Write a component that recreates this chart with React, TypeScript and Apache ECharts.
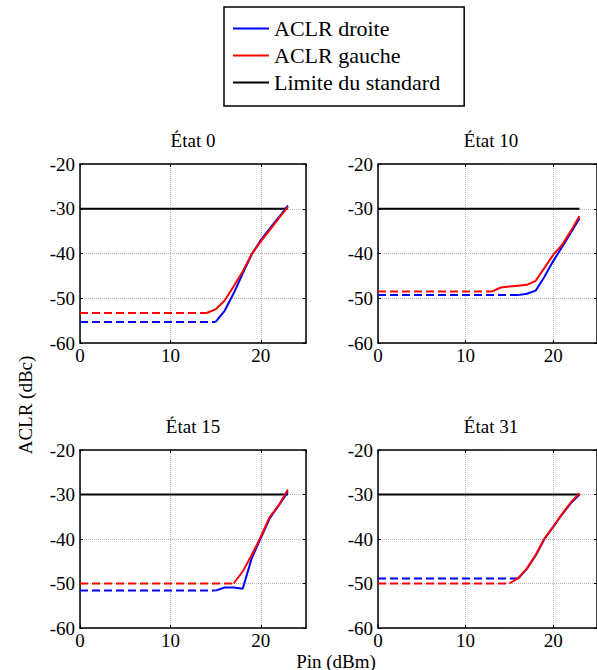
import React, { useEffect, useRef } from "react";
import * as echarts from "echarts";

// ---- data ----
const STATES = ["État 0", "État 10", "État 15", "État 31"];
const SERIES_NAMES = ["ACLR droite", "ACLR gauche", "Limite du standard"];
const X_LABELS = [0, 10, 20];
const Y_LABELS = [-60, -50, -40, -30, -20];

// flat (dashed) levels and where measured (solid) part starts, per state
const blueFlat = [-55.3, -49.3, -51.6, -48.9];
const redFlat = [-53.3, -48.5, -50.0, -50.0];
const blueStart = [15, 16, 15, 16];
const redStart = [14, 13, 17, 15];

// solid parts (Pin = start, start+1, ...)
const blueEtat0 = [-55.3, -52.8, -48.9, -44.5, -40.2, -37.0, -34.4, -31.9, -29.3];
const redEtat0 = [-53.3, -52.5, -50.5, -47.3, -44.0, -40.1, -37.3, -34.7, -32.1, -29.6];
const blueEtat10 = [-49.3, -49.0, -48.3, -45.2, -41.7, -38.6, -35.4, -32.1];
const redEtat10 = [-48.5, -47.6, -47.4, -47.2, -47.0, -46.1, -43.2, -40.3, -38.1, -35.0, -31.6];
const blueEtat15 = [-51.6, -50.9, -50.9, -51.2, -44.3, -39.8, -35.3, -32.4, -29.4];
const redEtat15 = [-50.0, -47.3, -43.6, -39.5, -35.0, -32.4, -28.9];
const blueEtat31 = [-48.9, -46.7, -43.7, -40.0, -37.3, -34.5, -32.0, -30.0];
const redEtat31 = [-50.0, -48.8, -46.6, -43.6, -39.9, -37.2, -34.4, -31.8, -29.7];

const blueSolid = [blueEtat0, blueEtat10, blueEtat15, blueEtat31];
const redSolid = [redEtat0, redEtat10, redEtat15, redEtat31];

const limitValue = -30;
const limitStart = 0;
const limitEnd = 23;

// ---- layout / style ----
const FONT = "Liberation Serif";
const GRIDS = [
  { left: 80, top: 164, width: 226, height: 179 },
  { left: 378, top: 164, width: 226, height: 179 },
  { left: 80, top: 450, width: 226, height: 178 },
  { left: 378, top: 450, width: 226, height: 178 },
];
const TITLE_POS = [
  [193, 140],
  [491, 140],
  [193, 426],
  [491, 426],
];
const BLUE = "#0000ff";
const RED = "#ff0000";
const BLACK = "#000000";

function toPoints(start: number, vals: number[]) {
  return vals.map((v, i) => [start + i, v]);
}

export default function App() {
  const ref = useRef<HTMLDivElement>(null);

  useEffect(() => {
    if (!ref.current) return;
    const chart = echarts.init(ref.current, undefined, { renderer: "svg" });

    const xAxes: any[] = [];
    const yAxes: any[] = [];
    const series: any[] = [];

    GRIDS.forEach((_, i) => {
      const axisLine = { show: true, onZero: false, lineStyle: { color: BLACK, width: 1.5 } };
      const axisTick = { show: true, inside: true, length: 3, lineStyle: { color: BLACK, width: 1 } };
      const split = { show: true, lineStyle: { color: "#b0b0b0", width: 1, type: [1, 1] } };
      xAxes.push({
        gridIndex: i,
        type: "value",
        position: "bottom",
        min: 0,
        max: 25,
        interval: 10,
        axisLine,
        axisTick,
        axisLabel: {
          color: BLACK,
          fontFamily: FONT,
          fontSize: 19,
          margin: 3,
          showMaxLabel: false,
          formatter: (v: number) => (X_LABELS.includes(v) ? String(v) : ""),
        },
        splitLine: split,
      });
      xAxes.push({
        gridIndex: i,
        type: "value",
        position: "top",
        min: 0,
        max: 25,
        interval: 10,
        axisLine,
        axisTick,
        axisLabel: { show: false },
        splitLine: { show: false },
      });
      yAxes.push({
        gridIndex: i,
        type: "value",
        position: "left",
        min: -60,
        max: -20,
        interval: 10,
        axisLine,
        axisTick,
        axisLabel: {
          color: BLACK,
          fontFamily: FONT,
          fontSize: 19,
          margin: 5,
          formatter: (v: number) => (Y_LABELS.includes(v) ? String(v) : ""),
        },
        splitLine: split,
      });
      yAxes.push({
        gridIndex: i,
        type: "value",
        position: "right",
        min: -60,
        max: -20,
        interval: 10,
        axisLine,
        axisTick,
        axisLabel: { show: false },
        splitLine: { show: false },
      });

      const common = {
        type: "line",
        xAxisIndex: 2 * i,
        yAxisIndex: 2 * i,
        symbol: "none",
        showSymbol: false,
        silent: true,
      };
      // black limit
      series.push({
        ...common,
        name: SERIES_NAMES[2],
        color: BLACK,
        itemStyle: { color: BLACK },
        lineStyle: { color: BLACK, width: 2 },
        data: [
          [limitStart, limitValue],
          [limitEnd, limitValue],
        ],
      });
      // blue
      series.push({
        ...common,
        name: SERIES_NAMES[0],
        color: BLUE,
        itemStyle: { color: BLUE },
        lineStyle: { color: BLUE, width: 2 },
        data: toPoints(blueStart[i], blueSolid[i]),
      });
      series.push({
        ...common,
        name: SERIES_NAMES[0],
        color: BLUE,
        itemStyle: { color: BLUE },
        lineStyle: { color: BLUE, width: 2, type: [8, 4] },
        data: [
          [0, blueFlat[i]],
          [blueStart[i], blueFlat[i]],
        ],
      });
      // red
      series.push({
        ...common,
        name: SERIES_NAMES[1],
        color: RED,
        itemStyle: { color: RED },
        lineStyle: { color: RED, width: 2 },
        data: toPoints(redStart[i], redSolid[i]),
      });
      series.push({
        ...common,
        name: SERIES_NAMES[1],
        color: RED,
        itemStyle: { color: RED },
        lineStyle: { color: RED, width: 2, type: [8, 4] },
        data: [
          [0, redFlat[i]],
          [redStart[i], redFlat[i]],
        ],
      });
    });

    const textStyle = (size: number) => ({
      font: `${size}px "${FONT}"`,
      fill: BLACK,
      textAlign: "center",
      textVerticalAlign: "middle",
      align: "center",
      verticalAlign: "middle",
    });

    const graphic: any[] = STATES.map((s, i) => ({
      type: "text",
      x: TITLE_POS[i][0],
      y: TITLE_POS[i][1],
      style: { text: s, ...textStyle(19) },
    }));
    graphic.push({
      type: "text",
      x: 25,
      y: 405,
      rotation: Math.PI / 2,
      style: { text: "ACLR (dBc)", ...textStyle(19) },
    });
    graphic.push({
      type: "text",
      x: 336,
      y: 661,
      style: { text: "Pin (dBm)", ...textStyle(19) },
    });

    chart.setOption({
      animation: false,
      backgroundColor: "#ffffff",
      grid: GRIDS.map((g) => ({ ...g, containLabel: false, show: false })),
      xAxis: xAxes,
      yAxis: yAxes,
      series,
      legend: {
        data: SERIES_NAMES,
        orient: "vertical",
        left: 224,
        top: 7,
        icon: "rect",
        itemWidth: 36,
        itemHeight: 2,
        itemGap: 0,
        padding: [8, 24, 10, 9],
        borderColor: BLACK,
        borderWidth: 1.5,
        backgroundColor: "#ffffff",
        selectedMode: false,
        textStyle: { color: BLACK, fontFamily: FONT, fontSize: 22, lineHeight: 27 },
      },
      graphic,
    });

    return () => chart.dispose();
  }, []);

  return (
    <div
      ref={ref}
      style={{ position: "absolute", left: 0, top: 0, width: 597, height: 670, background: "#fff" }}
    />
  );
}
